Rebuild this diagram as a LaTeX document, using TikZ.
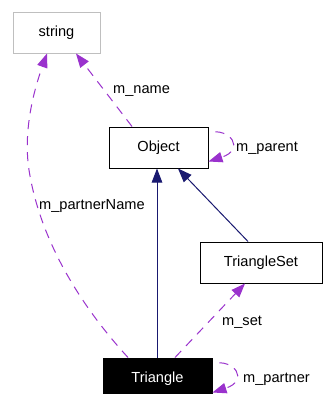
\documentclass[tikz,border=0pt]{standalone}
\usepackage{fontspec}
\setmainfont{Liberation Sans}
\usetikzlibrary{arrows.meta,calc}
\definecolor{dep}{HTML}{9A32CD}
\definecolor{inh}{HTML}{191970}
\definecolor{grayb}{HTML}{BFBFBF}
\begin{document}
\begin{tikzpicture}[x=1pt,y=-1pt,
  every node/.style={font=\fontsize{14.6}{17}\selectfont, inner sep=0pt},
  cls/.style={draw=black, line width=1pt, fill=white, minimum height=41pt},
  deparr/.style={draw=dep, line width=1pt, dash pattern=on 9pt off 7pt,
     -{Triangle[length=14pt,width=10.5pt,fill=dep]}},
  looparr/.style={deparr, dash phase=9pt},
  inharr/.style={draw=inh, line width=1pt,
     -{Triangle[length=14pt,width=10.5pt,fill=inh]}},
  lbl/.style={anchor=west}]
\useasboundingbox (0,0) rectangle (323,394);
\clip (0,0) rectangle (323,394);
\fill[white] (0,0) rectangle (323,394);
% nodes
\node[cls, draw=grayb, minimum width=87pt] (string) at (56.5,32.5) {string};
\node[cls, minimum width=99pt] (object) at (158.5,147.5) {Object};
\node[cls, minimum width=122pt] (tset) at (261,262.5) {TriangleSet};
\node[cls, fill=black, text=white, minimum width=109pt] (tri) at (157.5,378.5) {Triangle};
% inheritance
\draw[inharr] (tri.north -| 157,0) -- (object.south -| 157,0);
\draw[inharr] ([xshift=-13pt]tset.north) -- ([xshift=19.5pt]object.south);
% dependencies
\draw[deparr] ([xshift=-26.5pt]object.north) -- ([xshift=19.5pt]string.south);
\draw[deparr] ([xshift=-29.5pt]tri.north) .. controls (80,305) and (40,240) .. (29,170)
   .. controls (23,130) and (34,90) .. ([xshift=-9.5pt]string.south);
\draw[deparr] ([xshift=17.5pt]tri.north) -- ([xshift=-16pt]tset.south);
\draw[looparr] ([yshift=-6pt]object.north east) .. controls +(22,-5) and +(37,-12) .. ([yshift=-35pt]object.north east);
\draw[looparr] ([yshift=-6pt]tri.north east) .. controls +(22,-5) and +(37,-12) .. ([yshift=-35pt]tri.north east);
% labels
\node[lbl] (lname) at (113,91) {m\_name};
\node[lbl] (lparent) at (236,148) {m\_parent};
\node[lbl] (lpname) at (39,206) {m\_partnerName};
\node[lbl] (lset) at (222,322) {m\_set};
\node[lbl] (lpartner) at (243,379) {m\_partner};
\end{tikzpicture}
\end{document}
